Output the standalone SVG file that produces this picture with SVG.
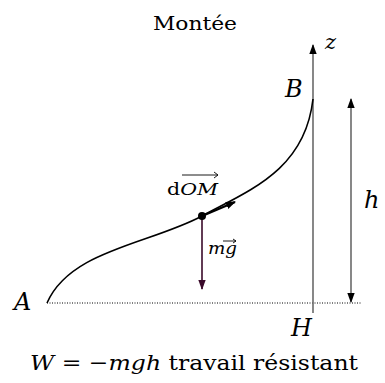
<svg xmlns="http://www.w3.org/2000/svg" width="385" height="383" viewBox="0 0 385 383">
<style>
text{fill:#000}
.m{font-style:italic}
.ax{stroke:#6a6a6a;stroke-width:1.6;fill:none}
</style>
<defs>
<marker id="ah" markerWidth="11" markerHeight="10" refX="9" refY="5" orient="auto" markerUnits="userSpaceOnUse">
<path d="M0,1.3 L10,5 L0,8.7 z" fill="#000"/>
</marker>
<marker id="ahp" markerWidth="11" markerHeight="10" refX="9" refY="5" orient="auto" markerUnits="userSpaceOnUse">
<path d="M0,1.3 L10,5 L0,8.7 z" fill="#3a0a2a"/>
</marker>
<marker id="ahs" markerWidth="11" markerHeight="10" refX="9" refY="5" orient="auto-start-reverse" markerUnits="userSpaceOnUse">
<path d="M0,1.3 L10,5 L0,8.7 z" fill="#000"/>
</marker>
</defs>
<rect width="385" height="383" fill="#fff"/>
<g id="connectors">
<line id="baseline" x1="47" y1="303" x2="362" y2="303" stroke="#000" stroke-width="1" stroke-dasharray="1,1.5"/>
<line id="zaxis" class="ax" x1="313" y1="313" x2="313" y2="45" marker-end="url(#ah)"/>
<line id="harrow" class="ax" x1="351" y1="99" x2="351" y2="302" marker-start="url(#ahs)" marker-end="url(#ahs)"/>
<path id="curve" d="M47,303 C70,250 150,244 202,216 C250,190 305,170 313,99" fill="none" stroke="#000" stroke-width="1.6"/>
<line id="dom" x1="202" y1="216" x2="235" y2="202" stroke="#000" stroke-width="2.4" marker-end="url(#ah)"/>
<line id="mg" x1="202" y1="216" x2="202" y2="289" stroke="#3a0a2a" stroke-width="1.6" marker-end="url(#ahp)"/>
<circle cx="202" cy="216" r="4" fill="#000"/>
</g>
<g id="labels" font-family="DejaVu Serif, serif">
<text x="195" y="30" font-size="19" text-anchor="middle" textLength="84" lengthAdjust="spacingAndGlyphs">Montée</text>
<text class="m" x="325" y="49" font-size="21">z</text>
<text class="m" x="285" y="97" font-size="24">B</text>
<text class="m" x="364" y="208" font-size="24">h</text>
<text class="m" x="14" y="310" font-size="24">A</text>
<text class="m" x="291" y="336" font-size="24">H</text>
<text x="167" y="195" font-size="16" textLength="51" lengthAdjust="spacingAndGlyphs">d<tspan class="m">OM</tspan></text>
<path d="M182,175 L218,175 M214,172 L218,175 L214,178" fill="none" stroke="#000" stroke-width="0.9"/>
<text class="m" x="208" y="254" font-size="16" textLength="29" lengthAdjust="spacingAndGlyphs">mg</text>
<path d="M223,241 L236,241 M233,239 L236,241 L233,243" fill="none" stroke="#000" stroke-width="0.9"/>
<text x="30" y="370" font-size="21" textLength="328" lengthAdjust="spacingAndGlyphs"><tspan class="m">W</tspan> = −<tspan class="m">mgh</tspan> travail résistant</text>
</g>
</svg>
